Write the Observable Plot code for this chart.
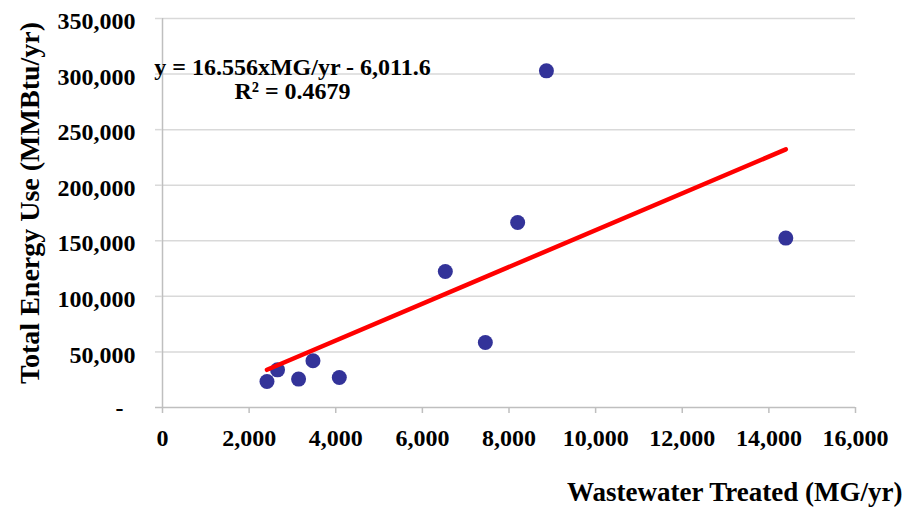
<!DOCTYPE html>
<html><head><meta charset="utf-8">
<script src="https://cdn.jsdelivr.net/npm/d3@7"></script>
<script src="https://cdn.jsdelivr.net/npm/@observablehq/plot@0.6"></script>
<style>body{margin:0;background:#fff;}</style>
</head><body><div id="chart"></div>
<script>
const wastewater = [2412, 2656, 3142, 3474, 4082, 6530, 7454, 8200, 8864, 14391];
const energy = [23400, 33900, 25550, 42000, 27000, 122400, 58500, 166450, 302900, 152400];
const xTicks = [0, 2000, 4000, 6000, 8000, 10000, 12000, 14000, 16000];
const yTicks = [0, 50000, 100000, 150000, 200000, 250000, 300000, 350000];
const trendSlope = 16.556, trendIntercept = -6011.6;
const equationText = "y = 16.556xMG/yr - 6,011.6";
const r2Text = "R² = 0.4679";
const xTitle = "Wastewater Treated (MG/yr)";
const yTitle = "Total Energy Use (MMBtu/yr)";

const data = wastewater.map((x, i) => ({x, y: energy[i]}));
const [xmin, xmax] = d3.extent(wastewater);
const trend = [xmin, xmax].map(x => ({x, y: trendSlope * x + trendIntercept}));
const fmt = d3.format(",");
const font = "'Liberation Serif','Times New Roman',serif";
const txt = {fontFamily: font, fontWeight: "bold", fill: "#000"};

const plot = Plot.plot({
  width: 915, height: 510,
  marginLeft: 162, marginRight: 60, marginTop: 18, marginBottom: 103,
  style: {fontFamily: font, background: "#fff", color: "#000"},
  x: {domain: [0, 16000]},
  y: {domain: [0, 350000]},
  marks: [
    Plot.gridY(yTicks.filter(d => d > 0), {stroke: "#d9d9d9", strokeOpacity: 1, strokeWidth: 1.5}),
    Plot.ruleX([0], {stroke: "#bfbfbf", strokeWidth: 1.5}),
    Plot.ruleY([0], {stroke: "#bfbfbf", strokeWidth: 1.5}),
    Plot.axisX(xTicks, {tickSize: 6, stroke: "#bfbfbf", strokeWidth: 1.5, tickFormat: () => "", label: null}),
    Plot.axisY(yTicks.filter(d => d > 0), {tickSize: 7, stroke: "#d9d9d9", strokeWidth: 1.5, tickFormat: () => "", label: null}),
    Plot.axisY([0], {tickSize: 7, stroke: "#bfbfbf", strokeWidth: 1.5, tickFormat: () => "", label: null}),
    Plot.text(xTicks, {x: d => d, text: d => fmt(d), frameAnchor: "bottom", dy: 21, lineAnchor: "top",
      textAnchor: "middle", fontSize: 24, ...txt}),
    Plot.text(yTicks.filter(d => d > 0), {y: d => d, text: d => fmt(d), frameAnchor: "left", dx: -27, dy: 3,
      lineAnchor: "middle", textAnchor: "end", fontSize: 24, ...txt}),
    Plot.text(yTicks.filter(d => d === 0), {y: d => d, text: () => "-", frameAnchor: "left", dx: -39, dy: 1,
      lineAnchor: "middle", textAnchor: "end", fontSize: 24, ...txt}),
    Plot.dot(data, {x: "x", y: "y", r: 7.5, fill: "#333399"}),
    Plot.line(trend, {x: "x", y: "y", stroke: "#ff0000", strokeWidth: 4.5, strokeLinecap: "round"}),
    Plot.text([equationText + "\n" + r2Text], {text: d => d, frameAnchor: "top-left", dx: 130, dy: 40,
      lineAnchor: "top", textAnchor: "middle", lineHeight: 0.98, fontSize: 24, ...txt}),
    Plot.text([xTitle], {text: d => d, frameAnchor: "bottom-right", dx: 47, dy: 85, textAnchor: "end",
      lineAnchor: "middle", fontSize: 27, ...txt}),
    Plot.text([yTitle], {text: d => d, frameAnchor: "left", rotate: -90, dx: -132, dy: -10,
      lineAnchor: "middle", textAnchor: "middle", fontSize: 28, ...txt})
  ]
});
document.getElementById("chart").appendChild(plot);
</script>
</body></html>
